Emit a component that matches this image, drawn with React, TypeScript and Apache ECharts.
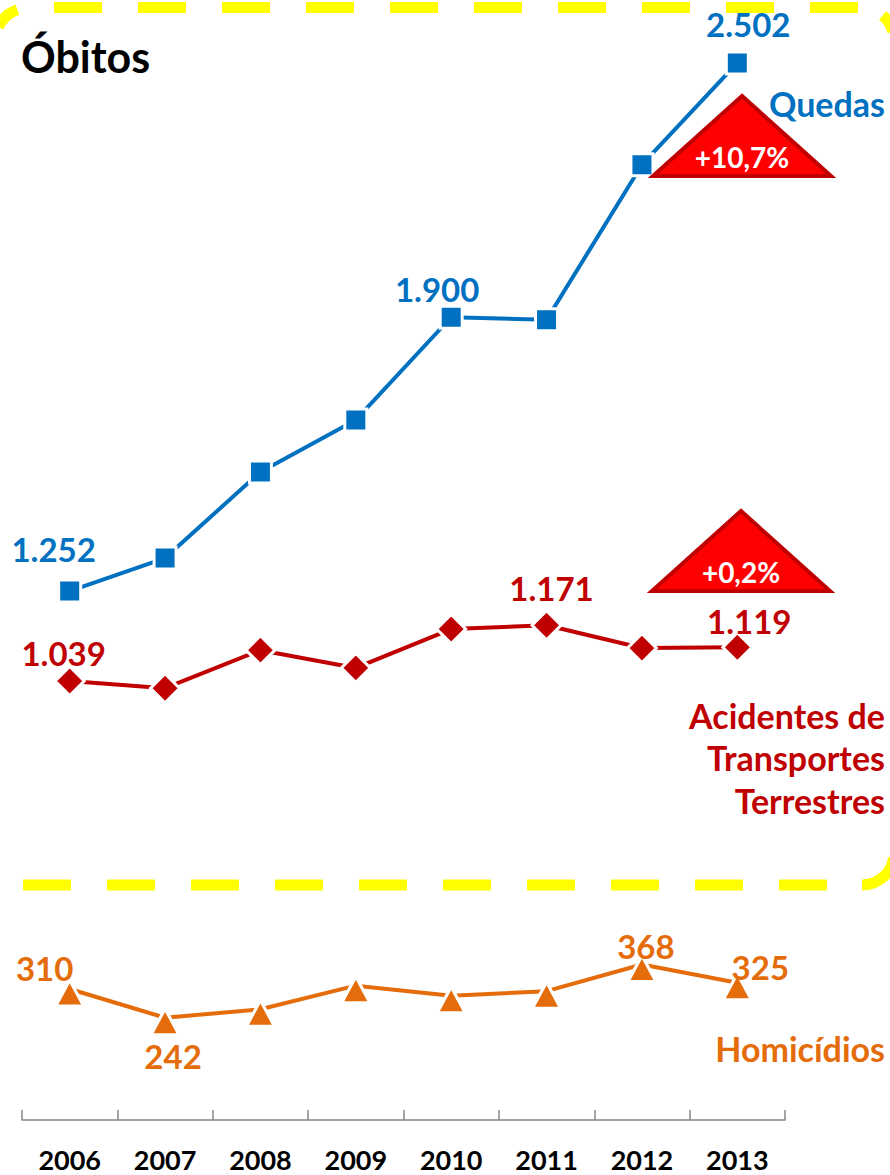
import React, { useEffect, useRef } from "react";
import * as echarts from "echarts";

const years = ["2006", "2007", "2008", "2009", "2010", "2011", "2012", "2013"];
const quedas = [1252, 1330, 1534, 1657, 1900, 1894, 2261, 2502];
const acidentes = [1039, 1022, 1112, 1070, 1162, 1171, 1117, 1119];
const homicidios = [310, 242, 262, 318, 294, 305, 368, 325];
const variacoes = ["+10,7%", "+0,2%"];

const BLUE = "#0070C0";
const RED = "#C00000";
const ORANGE = "#E46C0A";
const YELLOW = "#FFFF00";
const FONT = "Lato, 'Open Sans', sans-serif";

const fmt = (v: number) => String(v).replace(/\B(?=(\d{3})+(?!\d))/g, ".");

function withLabels(values: number[], offsets: Record<number, [number, number]>, color: string) {
  return values.map((v, i) => {
    const off = offsets[i];
    if (!off) return { value: v };
    return {
      value: v,
      label: {
        show: true,
        position: "inside",
        offset: off,
        formatter: () => fmt(v),
        color,
        fontFamily: FONT,
        fontWeight: "bold",
        fontSize: 33,
      },
    };
  });
}

export default function App() {
  const ref = useRef<HTMLDivElement>(null);
  useEffect(() => {
    document.body.style.margin = "0";
    const chart = echarts.init(ref.current!, null, { renderer: "svg" });
    const tri = (ax: number, ay: number, halfW: number, by: number, text: string) => [
      {
        type: "polygon",
        shape: { points: [[ax, ay], [ax - halfW, by], [ax + halfW, by]] },
        style: { fill: "#FF0000", stroke: RED, lineWidth: 4, lineJoin: "miter" },
        z: 10,
      },
      {
        type: "text",
        x: ax,
        y: by - 19,
        style: {
          text,
          fill: "#FFFFFF",
          font: `bold 28px ${FONT}`,
          align: "center",
          verticalAlign: "middle",
        },
        z: 11,
      },
    ];
    const sideText = (text: string, x: number, y: number, color: string, align = "right") => ({
      type: "text",
      x,
      y,
      style: { text, fill: color, font: `bold 34px ${FONT}`, align, verticalAlign: "middle" },
      z: 5,
    });
    const yellowLine = {
      stroke: YELLOW,
      lineWidth: 11,
      fill: "none",
    };
    chart.setOption({
      animation: false,
      grid: { left: 22, right: 105, top: 21.5, bottom: 55 },
      xAxis: {
        type: "category",
        data: years,
        boundaryGap: true,
        axisLine: { lineStyle: { color: "#868686", width: 1.5 } },
        axisTick: { show: true, inside: true, length: 10, lineStyle: { color: "#868686", width: 1.5 } },
        axisLabel: {
          margin: 26,
          color: "#000000",
          fontFamily: FONT,
          fontWeight: "bold",
          fontSize: 27,
          lineHeight: 26,
        },
      },
      yAxis: { type: "value", min: 0, max: 2600, show: false, splitLine: { show: false } },
      series: [
        {
          type: "line",
          data: withLabels(quedas, { 0: [-16, -42], 4: [-14, -28], 7: [11, -39] }, BLUE),
          symbol: "rect",
          symbolSize: 22,
          lineStyle: { color: BLUE, width: 4 },
          itemStyle: { color: BLUE, borderColor: "#FFFFFF", borderWidth: 3 },
          z: 3,
        },
        {
          type: "line",
          data: withLabels(acidentes, { 0: [-6, -28], 5: [5, -37], 7: [12, -26] }, RED),
          symbol: "diamond",
          symbolSize: 29,
          lineStyle: { color: RED, width: 4 },
          itemStyle: { color: RED, borderColor: "#FFFFFF", borderWidth: 3 },
          z: 3,
        },
        {
          type: "line",
          data: withLabels(homicidios, { 0: [-25, -25], 1: [8, 34], 6: [4, -23], 7: [23, -20] }, ORANGE),
          symbol: "triangle",
          symbolSize: [28, 26],
          symbolOffset: [0, 4],
          lineStyle: { color: ORANGE, width: 4 },
          itemStyle: { color: ORANGE, borderColor: "#FFFFFF", borderWidth: 3 },
          z: 3,
        },
      ],
      graphic: [
        { type: "line", shape: { x1: 54, y1: 7.5, x2: 858, y2: 7.5 }, style: { ...yellowLine, lineDash: [48, 36] }, z: 1 },
        { type: "line", shape: { x1: 23, y1: 885, x2: 827, y2: 885 }, style: { ...yellowLine, lineDash: [48, 36] }, z: 1 },
        { type: "arc", shape: { cx: 29, cy: 41.5, r: 34, startAngle: (205 * Math.PI) / 180, endAngle: (250 * Math.PI) / 180, clockwise: true }, style: yellowLine, z: 1 },
        { type: "arc", shape: { cx: 862, cy: 40, r: 32, startAngle: (-50 * Math.PI) / 180, endAngle: (-15 * Math.PI) / 180, clockwise: true }, style: yellowLine, z: 1 },
        { type: "arc", shape: { cx: 862, cy: 853, r: 32, startAngle: 0.15, endAngle: Math.PI / 2, clockwise: true }, style: yellowLine, z: 1 },
        {
          type: "text",
          x: 21,
          y: 56,
          style: { text: "Óbitos", fill: "#000000", font: `bold 43px ${FONT}`, align: "left", verticalAlign: "middle" },
          z: 5,
        },
        ...tri(742, 96, 89, 176, variacoes[0]),
        ...tri(741, 511, 89, 591, variacoes[1]),
        sideText("Quedas", 885, 103, BLUE),
        sideText("Acidentes de", 885, 715, RED),
        sideText("Transportes", 885, 757, RED),
        sideText("Terrestres", 885, 800, RED),
        sideText("Homicídios", 885, 1048, ORANGE),
      ],
    });
    return () => chart.dispose();
  }, []);
  return <div ref={ref} style={{ position: "absolute", left: 0, top: 0, width: 890, height: 1175 }} />;
}
